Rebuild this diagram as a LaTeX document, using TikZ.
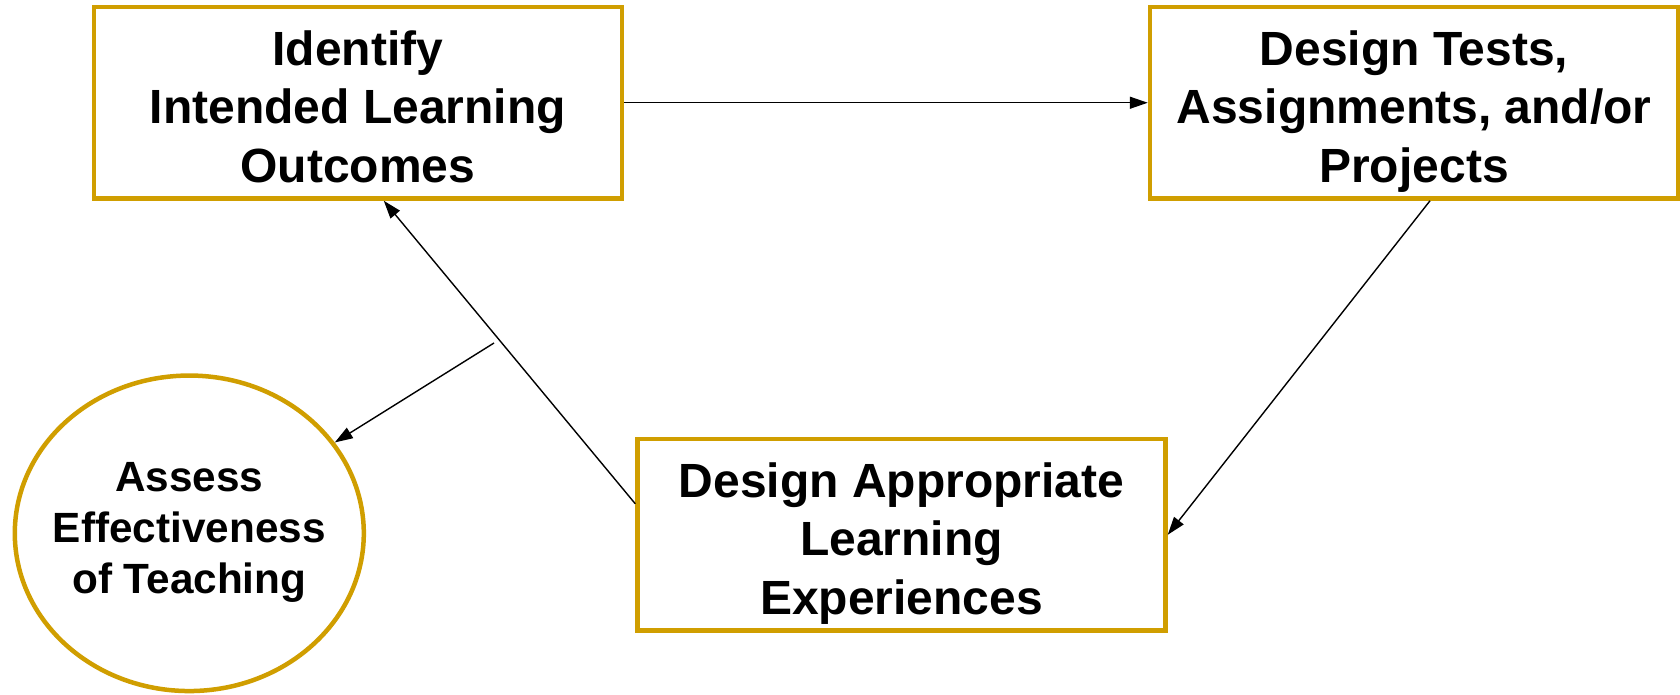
\documentclass[tikz,border=0pt]{standalone}
\usepackage{fontspec}
\setmainfont{Liberation Sans}
\usetikzlibrary{arrows.meta,shapes.geometric}
\definecolor{gold}{RGB}{208,158,0}
\newcommand{\boxlines}[3]{\rule{0pt}{54pt}#1\\#2\\#3\rule[-12pt]{0pt}{12pt}}
\newcommand{\elllines}[3]{\rule{0pt}{36pt}#1\\#2\\#3\rule[-18pt]{0pt}{18pt}}
\begin{document}
\begin{tikzpicture}[x=1pt,y=-1pt,
  stage/.style={draw=gold, line width=4.5pt, rectangle, minimum width=528pt,
    minimum height=191.5pt, inner sep=0pt, align=center,
    font=\fontsize{48}{58.5}\selectfont\bfseries},
  goal/.style={draw=gold, line width=4.5pt, ellipse, minimum width=349pt,
    minimum height=315.5pt, inner sep=-20pt, align=center,
    font=\fontsize{42.3}{51}\selectfont\bfseries},
  link/.style={line width=1.4pt, -{Triangle[length=18pt,width=12pt]}}]
\useasboundingbox (0,0) rectangle (1680,695);
\node[stage] (b1) at (357.75,102.75) {\boxlines{Identify}{Intended Learning}{Outcomes}};
\node[stage] (b2) at (1414,102.75) {\boxlines{Design Tests,}{Assignments, and/or}{Projects}};
\node[stage] (b3) at (901.5,534.75) {\boxlines{Design Appropriate}{Learning}{Experiences}};
\node[goal] (ell) at (189.3,533.3) {\elllines{Assess}{Effectiveness}{of Teaching}};
\coordinate (m) at (494,343);
\draw[link] (b1.east) -- (b2.west);
\draw[link] ([xshift=16pt]b2.south) -- (b3.east);
\draw[link] ([yshift=31pt]b3.west) -- ([xshift=26pt]b1.south);
\draw[link] (m) -- (ell);
\end{tikzpicture}
\end{document}
